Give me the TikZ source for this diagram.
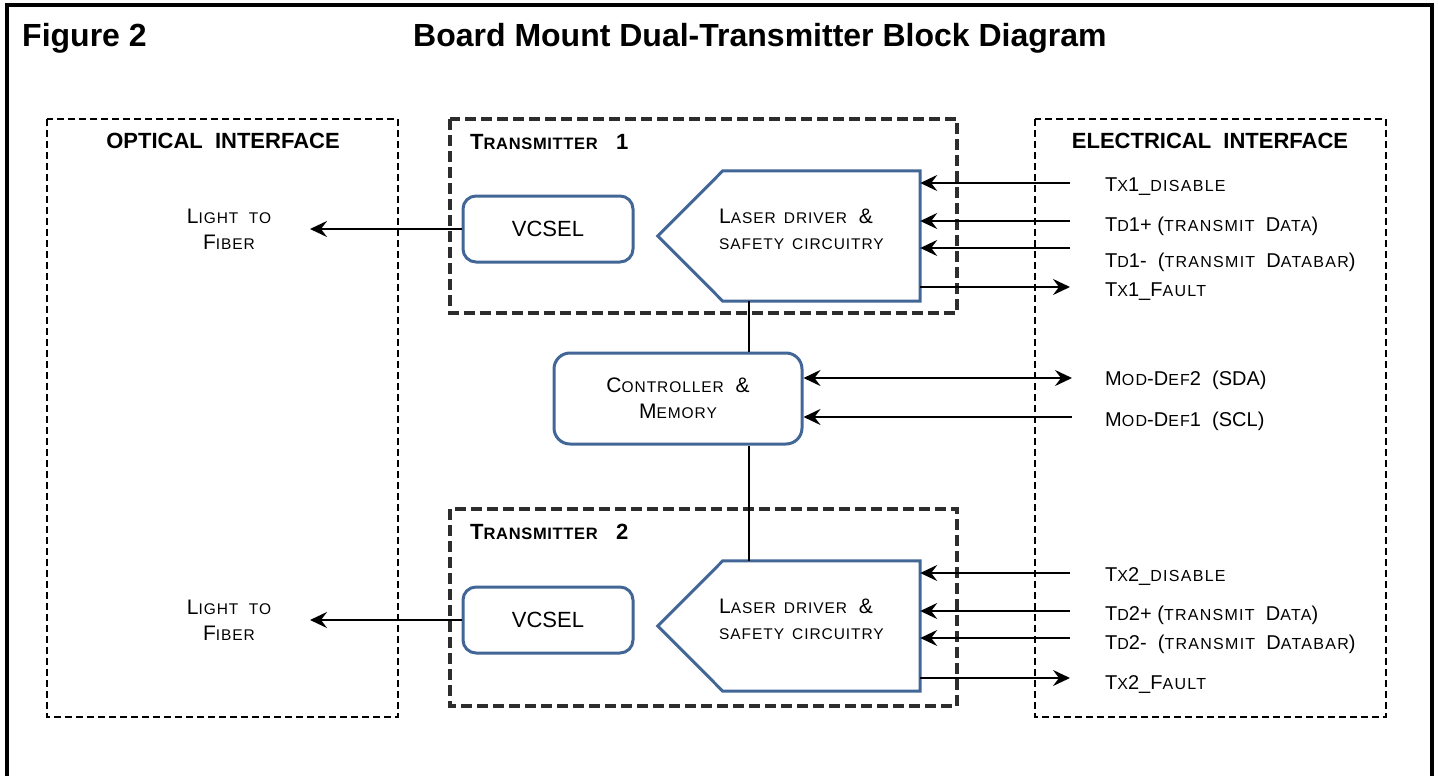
\documentclass[tikz,border=0pt]{standalone}
\usepackage{fontspec}
\setmainfont{Liberation Sans}
\usetikzlibrary{arrows.meta,calc}
\definecolor{bbl}{RGB}{66,103,150}
\definecolor{dgr}{RGB}{45,45,45}
\newcommand\smc[1]{{\fontsize{15.5}{18}\selectfont\addfontfeature{LetterSpace=6}#1}}
\newcommand\smcw[1]{{\fontsize{16}{18}\selectfont\addfontfeature{LetterSpace=8}#1}}
\newcommand\smcb[1]{{\fontsize{16.5}{18}\selectfont\addfontfeature{LetterSpace=4}#1}}
\begin{document}
\begin{tikzpicture}[x=1pt,y=-1pt,
  frame/.style={line width=4.5pt,black},
  iface/.style={draw,line width=2.2pt,dash pattern=on 7pt off 4pt},
  txbox/.style={draw=dgr,line width=4pt,dash pattern=on 11pt off 5pt},
  rbox/.style={draw=bbl,line width=3pt,rounded corners=13pt},
  conn/.style={line width=2.3pt},
  tip/.style={-{Stealth[length=17pt,width=16pt,inset=6pt]}},
  btip/.style={{Stealth[length=17pt,width=16pt,inset=6pt]}-{Stealth[length=17pt,width=16pt,inset=6pt]}},
  lbl/.style={inner sep=0pt,font=\fontsize{20}{24}\selectfont,text height=14.4pt,text depth=0pt},
  head/.style={inner sep=0pt,font=\fontsize{22}{26}\selectfont\bfseries,text height=15.8pt,text depth=0pt},
  ttl/.style={inner sep=0pt,font=\fontsize{32}{36}\selectfont\bfseries},
  ml/.style={inner sep=0pt,font=\fontsize{21}{26}\selectfont}
]
\useasboundingbox (0,0) rectangle (1438,776);
\clip (0,0) rectangle (1438,776);
% outer frame
\draw[frame] (7,790) -- (7,5) -- (1432,5) -- (1432,790);
% title
\node[ttl,anchor=base west] (fig) at (22,47) {Figure 2};
\node[ttl,anchor=base west] (title) at (413,47) {Board Mount Dual-Transmitter Block Diagram};
% interfaces
\draw[iface] (47,119) rectangle (398,717);
\node[head] (opt) at (223,141) {OPTICAL\ \ INTERFACE};
\draw[iface] (1035,119) rectangle (1386,717);
\node[head] (elec) at (1210,141) {ELECTRICAL\ \ INTERFACE};
% transmitter boxes
\draw[txbox] (450,119) rectangle (957,313);
\node[head,anchor=west] (t1) at (470,142) {T\smcb{RANSMITTER}\ \ \ 1};
\draw[txbox] (450,509) rectangle (957,706);
\node[head,anchor=west] (t2) at (470,532) {T\smcb{RANSMITTER}\ \ \ 2};
% VCSELs
\node[rbox,minimum width=170pt,minimum height=66pt,font=\fontsize{22}{26}\selectfont] (v1) at (548,229) {VCSEL};
\node[rbox,minimum width=170pt,minimum height=66pt,font=\fontsize{22}{26}\selectfont] (v2) at (548,620) {VCSEL};
% laser drivers
\node[minimum width=197pt,minimum height=130pt,inner sep=0pt] (ld1) at (821.5,236) {};
\draw[draw=bbl,line width=3pt,line join=miter] (ld1.north west) -- (ld1.north east) -- (ld1.south east) -- (ld1.south west) -- ($(ld1.west)+(-65,0)$) -- cycle;
\node[ml,align=left,anchor=west] (ld1t) at (719,229) {L\smc{ASER\hspace{8pt}DRIVER}\ \ \&\\\smc{SAFETY\hspace{8pt}CIRCUITRY}};
\node[minimum width=197pt,minimum height=130pt,inner sep=0pt] (ld2) at (821.5,626) {};
\draw[draw=bbl,line width=3pt,line join=miter] (ld2.north west) -- (ld2.north east) -- (ld2.south east) -- (ld2.south west) -- ($(ld2.west)+(-65,0)$) -- cycle;
\node[ml,align=left,anchor=west] (ld2t) at (719,619) {L\smc{ASER\hspace{8pt}DRIVER}\ \ \&\\\smc{SAFETY\hspace{8pt}CIRCUITRY}};
% controller
\node[rbox,minimum width=248pt,minimum height=91pt,ml,align=center,rounded corners=16pt] (ctrl) at (678,398.5) {C\smc{ONTROLLER}\ \ \&\\M\smc{EMORY}};
% bus
\coordinate (bus) at (749,0);
\draw[conn] (ld1.south -| bus) -- (ctrl.north -| bus);
\draw[conn] (ctrl.south -| bus) -- (ld2.north -| bus);
% light to fiber
\coordinate (lf1) at (310,229);
\coordinate (lf2) at (310,620);
\draw[conn,tip] (v1.west) -- (lf1);
\draw[conn,tip] (v2.west) -- (lf2);
\node[ml,align=center] (lt1) at (229,229) {L\smc{IGHT\ \ TO}\\F\smc{IBER}};
\node[ml,align=center] (lt2) at (229,620) {L\smc{IGHT\ \ TO}\\F\smc{IBER}};
% electrical signals
\foreach \n/\y in {a/183,b/221,c/248,d/287}{\coordinate (e1\n) at (1070,\y);}
\foreach \n/\y in {a/573,b/611,c/638,d/678}{\coordinate (e2\n) at (1070,\y);}
\foreach \k in {1,2}{
  \draw[conn,tip] (e\k a) -- (e\k a -| ld\k.east);
  \draw[conn,tip] (e\k b) -- (e\k b -| ld\k.east);
  \draw[conn,tip] (e\k c) -- (e\k c -| ld\k.east);
  \draw[conn,tip] (e\k d -| ld\k.east) -- (e\k d);
}
\node[lbl,anchor=west] (s1a) at (1105,184) {T\smcw{X}1\_\smcw{DISABLE}};
\node[lbl,anchor=west] (s1b) at (1105,224) {T\smcw{D}1+ (\smcw{TRANSMIT}\ \ D\smcw{ATA})};
\node[lbl,anchor=west] (s1c) at (1105,260) {T\smcw{D}1-\ \ (\smcw{TRANSMIT}\ \ D\smcw{ATABAR})};
\node[lbl,anchor=west] (s1d) at (1105,289) {T\smcw{X}1\_F\smcw{AULT}};
\node[lbl,anchor=west] (s2a) at (1105,574) {T\smcw{X}2\_\smcw{DISABLE}};
\node[lbl,anchor=west] (s2b) at (1105,613) {T\smcw{D}2+ (\smcw{TRANSMIT}\ \ D\smcw{ATA})};
\node[lbl,anchor=west] (s2c) at (1105,642) {T\smcw{D}2-\ \ (\smcw{TRANSMIT}\ \ D\smcw{ATABAR})};
\node[lbl,anchor=west] (s2d) at (1105,682) {T\smcw{X}2\_F\smcw{AULT}};
% controller signals
\coordinate (m2) at (1072,378);
\coordinate (m1) at (1072,417);
\draw[conn,btip] (m2 -| ctrl.east) -- (m2);
\draw[conn,tip] (m1) -- (m1 -| ctrl.east);
\node[lbl,anchor=west] (sm2) at (1105,378) {M\smcw{OD}-D\smcw{EF}2\ \ (SDA)};
\node[lbl,anchor=west] (sm1) at (1105,419) {M\smcw{OD}-D\smcw{EF}1\ \ (SCL)};
\end{tikzpicture}
\end{document}
